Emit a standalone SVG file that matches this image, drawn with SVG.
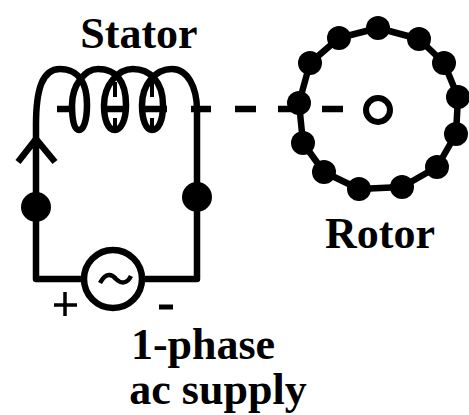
<svg xmlns="http://www.w3.org/2000/svg" width="469" height="415" viewBox="0 0 469 415">
<style>
.w{fill:none;stroke:#000;stroke-width:6.5;stroke-linejoin:round}
.d{fill:#000}
text{font-family:"Liberation Serif","Times New Roman",serif;font-weight:700;fill:#000;text-anchor:middle}
</style>
<rect width="469" height="415" fill="#fff"/>
<g id="connectors">
<path class="w" d="M36,207V279H85M141,279H197V110"/>
<path class="w" d="M57,109H74M101,109H128M140,109H167M191,109H211M235,109H256M278,109H298M322,109H343"/>
</g>
<g id="stator">
<path class="w" d="M36,140V125C36,90 42,69 60,69C72,69 87,75 87,105C87,122 83,130 79,130C74,130 72,120 72,105C72,85 85,69 98,69C115,69 126,80 126,105C126,122 120,130 115,130C108,130 104,120 104,105C104,85 118,69 133,69C150,69 163,82 163,105C163,122 158,130 152,130C146,130 142,120 142,105C142,85 155,69 172,69C188,69 197,88 197,110"/>
<path class="w" d="M115,82V97M115,118V128M152,82V97M152,118V128" style="stroke-width:4"/>
<path class="w" d="M36,195V138M18,162L36,139L55,162"/>
<circle class="d" cx="36" cy="207" r="15"/>
<circle class="d" cx="197" cy="197" r="15"/>
<text x="139" y="48" font-size="44">Stator</text>
</g>
<g id="source">
<circle cx="113" cy="279" r="29" fill="#fff" stroke="#000" stroke-width="6.5"/>
<path class="w" d="M100,283C106,272 112,274 116,279C121,284 127,284 131,276" style="stroke-width:4.5"/>
<path class="w" d="M54,305H77M65,292V316" style="stroke-width:3.5"/>
<path class="w" d="M159,307H173" style="stroke-width:5"/>
</g>
<g id="rotor">
<polygon class="w" points="378,28 419,39 444,63 458,97 456,134 437,167 402,187 359,189 324,172 303,143 299,103 310,63 339,38"/>
<g class="d">
<circle cx="378" cy="28" r="12"/><circle cx="419" cy="39" r="12"/><circle cx="444" cy="63" r="12"/><circle cx="458" cy="97" r="12"/><circle cx="456" cy="134" r="12"/><circle cx="437" cy="167" r="12"/><circle cx="402" cy="187" r="12"/><circle cx="359" cy="189" r="12"/><circle cx="324" cy="172" r="12"/><circle cx="303" cy="143" r="12"/><circle cx="299" cy="103" r="12"/><circle cx="310" cy="63" r="12"/><circle cx="339" cy="38" r="12"/>
</g>
<circle cx="378" cy="110" r="12" fill="#fff" stroke="#000" stroke-width="6"/>
<text x="380" y="248" font-size="44">Rotor</text>
</g>
<g id="label">
<text x="203" y="359" font-size="44">1-phase</text>
<text x="218" y="404" font-size="44">ac supply</text>
</g>
</svg>
